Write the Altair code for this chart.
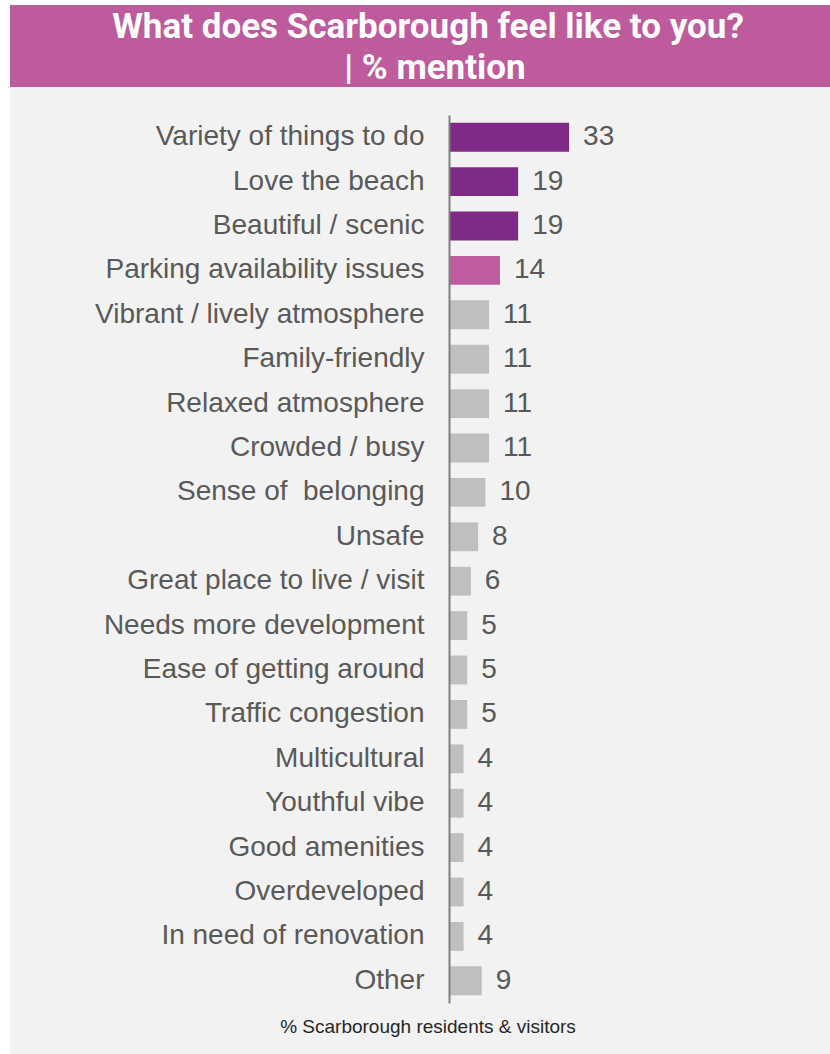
import altair as alt
import pandas as pd

categories = [
    "Variety of things to do", "Love the beach", "Beautiful / scenic",
    "Parking availability issues", "Vibrant / lively atmosphere", "Family-friendly",
    "Relaxed atmosphere", "Crowded / busy", "Sense of\u00a0 belonging", "Unsafe",
    "Great place to live / visit", "Needs more development", "Ease of getting around",
    "Traffic congestion", "Multicultural", "Youthful vibe", "Good amenities",
    "Overdeveloped", "In need of renovation", "Other",
]
values = [33, 19, 19, 14, 11, 11, 11, 11, 10, 8, 6, 5, 5, 5, 4, 4, 4, 4, 4, 9]
groups = ["top", "top", "top", "highlight"] + ["other"] * 16

title_lines = ["What does Scarborough feel like to you?", "| % mention"]
footer = "% Scarborough residents & visitors"

df = pd.DataFrame({"cat": categories, "val": values, "grp": groups})
deco = pd.DataFrame({"k": [0]})

LEFT, TOP, W, H = 449, 115, 381, 888

ysc = alt.Scale(domain=categories, paddingInner=0.35, paddingOuter=0.175)
xsc = alt.Scale(domain=[0, 104.7], nice=False, zero=True)

panel = alt.Chart(deco).mark_rect(color="#F2F2F2").encode(
    x=alt.value(10 - LEFT), x2=alt.value(W), y=alt.value(87 - TOP), y2=alt.value(H + 60)
)
band = alt.Chart(deco).mark_rect(color="#BE5B9D").encode(
    x=alt.value(10 - LEFT), x2=alt.value(W), y=alt.value(5 - TOP), y2=alt.value(87 - TOP)
)
tfont = "Roboto, sans-serif"
t1 = alt.Chart(deco).mark_text(
    text=title_lines[0], font=tfont, fontWeight="bold", fontSize=35, color="white",
    align="center", baseline="alphabetic"
).encode(x=alt.value(428 - LEFT), y=alt.value(38 - TOP))
t2 = alt.Chart(deco).mark_text(
    text=title_lines[1], font=tfont, fontWeight="bold", fontSize=35, color="white",
    align="center", baseline="alphabetic"
).encode(x=alt.value(435 - LEFT), y=alt.value(79 - TOP))
foot = alt.Chart(deco).mark_text(
    text=footer, font="Liberation Sans Narrow, Liberation Sans, sans-serif", fontSize=19,
    color="#262626", align="center", baseline="middle"
).encode(x=alt.value(428 - LEFT), y=alt.value(1027 - TOP))

bars = alt.Chart(df).mark_bar().encode(
    y=alt.Y("cat:N", scale=ysc, sort=categories,
            axis=alt.Axis(title=None, ticks=False, domain=True, domainColor="#7F7F7F",
                          domainWidth=2, labelFontSize=28, labelColor="#595959",
                          labelFont="Liberation Sans", labelPadding=25, labelLimit=400,
                          grid=False, zindex=1)),
    x=alt.X("val:Q", scale=xsc, axis=None),
    color=alt.Color("grp:N", legend=None,
                    scale=alt.Scale(domain=["top", "highlight", "other"],
                                    range=["#7E2A86", "#BF5B9F", "#BFBFBF"])),
)
labels = alt.Chart(df).mark_text(
    align="left", baseline="middle", dx=14, fontSize=28, color="#595959",
    font="Liberation Sans"
).encode(
    y=alt.Y("cat:N", scale=ysc, sort=categories),
    x=alt.X("val:Q", scale=xsc),
    text="val:Q",
)

chart = alt.layer(panel, band, t1, t2, foot, bars, labels).properties(
    width=W, height=H,
    autosize=alt.AutoSizeParams(type="none"),
    padding={"left": LEFT, "top": TOP, "right": 0, "bottom": 1054 - TOP - H},
    background="white",
).configure_view(stroke=None)

chart.save("out.html", embed_options={"renderer": "svg", "actions": False})
